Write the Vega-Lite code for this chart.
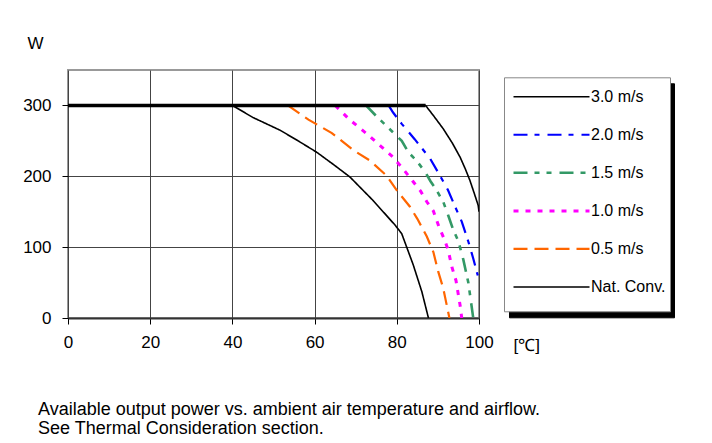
{
  "$schema": "https://vega.github.io/schema/vega-lite/v6.json",
  "width": 411,
  "height": 248,
  "autosize": "none",
  "padding": {"left": 68, "top": 70, "right": 233, "bottom": 125},
  "background": "white",
  "title": {
    "text": ["Available output power vs. ambient air temperature and airflow.", "See Thermal Consideration section."],
    "orient": "bottom",
    "anchor": "start",
    "frame": "group",
    "offset": 48,
    "dx": -30,
    "font": "Liberation Sans",
    "fontSize": 18,
    "fontWeight": "normal",
    "lineHeight": 19,
    "color": "black"
  },
  "config": {
    "view": {"stroke": "#999999", "strokeWidth": 2},
    "font": "Liberation Sans"
  },
  "layer": [
    {
      "data": {
        "values": [
          {"series": "3.0 m/s", "x": 0, "y": 300}, {"series": "3.0 m/s", "x": 87, "y": 300}, {"series": "3.0 m/s", "x": 89, "y": 285}, {"series": "3.0 m/s", "x": 91.3, "y": 267}, {"series": "3.0 m/s", "x": 93.5, "y": 247}, {"series": "3.0 m/s", "x": 95.4, "y": 227}, {"series": "3.0 m/s", "x": 96.7, "y": 210}, {"series": "3.0 m/s", "x": 97.8, "y": 194}, {"series": "3.0 m/s", "x": 98.9, "y": 175}, {"series": "3.0 m/s", "x": 99.8, "y": 159}, {"series": "3.0 m/s", "x": 100, "y": 150},
          {"series": "2.0 m/s", "x": 78, "y": 300}, {"series": "2.0 m/s", "x": 79.1, "y": 290}, {"series": "2.0 m/s", "x": 81.2, "y": 274}, {"series": "2.0 m/s", "x": 84.4, "y": 252}, {"series": "2.0 m/s", "x": 88.1, "y": 225}, {"series": "2.0 m/s", "x": 90.5, "y": 201}, {"series": "2.0 m/s", "x": 92.5, "y": 180}, {"series": "2.0 m/s", "x": 94.2, "y": 157}, {"series": "2.0 m/s", "x": 95.8, "y": 136}, {"series": "2.0 m/s", "x": 97.4, "y": 108}, {"series": "2.0 m/s", "x": 98.6, "y": 84}, {"series": "2.0 m/s", "x": 99.7, "y": 60},
          {"series": "1.5 m/s", "x": 72.5, "y": 300}, {"series": "1.5 m/s", "x": 75, "y": 285}, {"series": "1.5 m/s", "x": 79.1, "y": 262}, {"series": "1.5 m/s", "x": 81.2, "y": 250}, {"series": "1.5 m/s", "x": 82.8, "y": 234}, {"series": "1.5 m/s", "x": 84.8, "y": 222}, {"series": "1.5 m/s", "x": 86.9, "y": 206}, {"series": "1.5 m/s", "x": 88.2, "y": 193}, {"series": "1.5 m/s", "x": 89.7, "y": 180}, {"series": "1.5 m/s", "x": 91.3, "y": 164}, {"series": "1.5 m/s", "x": 92.5, "y": 145}, {"series": "1.5 m/s", "x": 93.7, "y": 125}, {"series": "1.5 m/s", "x": 95, "y": 108}, {"series": "1.5 m/s", "x": 96.2, "y": 82}, {"series": "1.5 m/s", "x": 97.4, "y": 50}, {"series": "1.5 m/s", "x": 98.6, "y": 0},
          {"series": "1.0 m/s", "x": 65, "y": 300}, {"series": "1.0 m/s", "x": 68.5, "y": 280}, {"series": "1.0 m/s", "x": 72.7, "y": 260}, {"series": "1.0 m/s", "x": 76, "y": 243}, {"series": "1.0 m/s", "x": 79.1, "y": 227}, {"series": "1.0 m/s", "x": 82, "y": 207}, {"series": "1.0 m/s", "x": 83.9, "y": 193}, {"series": "1.0 m/s", "x": 85.8, "y": 179}, {"series": "1.0 m/s", "x": 87.3, "y": 164}, {"series": "1.0 m/s", "x": 88.9, "y": 151}, {"series": "1.0 m/s", "x": 90.3, "y": 128}, {"series": "1.0 m/s", "x": 91.5, "y": 112}, {"series": "1.0 m/s", "x": 92.5, "y": 96}, {"series": "1.0 m/s", "x": 93.4, "y": 72}, {"series": "1.0 m/s", "x": 94.4, "y": 53}, {"series": "1.0 m/s", "x": 95.4, "y": 18}, {"series": "1.0 m/s", "x": 95.8, "y": 0},
          {"series": "0.5 m/s", "x": 53.5, "y": 300}, {"series": "0.5 m/s", "x": 58.5, "y": 280}, {"series": "0.5 m/s", "x": 64.2, "y": 261}, {"series": "0.5 m/s", "x": 69.4, "y": 237}, {"series": "0.5 m/s", "x": 73.5, "y": 222}, {"series": "0.5 m/s", "x": 77.5, "y": 201}, {"series": "0.5 m/s", "x": 80, "y": 180}, {"series": "0.5 m/s", "x": 83.2, "y": 157}, {"series": "0.5 m/s", "x": 85, "y": 140}, {"series": "0.5 m/s", "x": 87.3, "y": 115}, {"series": "0.5 m/s", "x": 88.9, "y": 93}, {"series": "0.5 m/s", "x": 90.1, "y": 65}, {"series": "0.5 m/s", "x": 91.3, "y": 42}, {"series": "0.5 m/s", "x": 92.8, "y": 0},
          {"series": "Nat. Conv.", "x": 0, "y": 300}, {"series": "Nat. Conv.", "x": 40, "y": 300}, {"series": "Nat. Conv.", "x": 45, "y": 283}, {"series": "Nat. Conv.", "x": 51.6, "y": 265}, {"series": "Nat. Conv.", "x": 56, "y": 250}, {"series": "Nat. Conv.", "x": 60.5, "y": 234}, {"series": "Nat. Conv.", "x": 64.5, "y": 217}, {"series": "Nat. Conv.", "x": 68.6, "y": 199}, {"series": "Nat. Conv.", "x": 74.2, "y": 166}, {"series": "Nat. Conv.", "x": 79.6, "y": 131}, {"series": "Nat. Conv.", "x": 81.2, "y": 119}, {"series": "Nat. Conv.", "x": 84, "y": 75}, {"series": "Nat. Conv.", "x": 86.1, "y": 37}, {"series": "Nat. Conv.", "x": 87.7, "y": 0}
        ]
      },
      "transform": [{"calculate": "datum.series", "as": "series2"}],
      "mark": {"type": "line", "clip": true},
      "encoding": {
        "x": {
          "field": "x", "type": "quantitative",
          "scale": {"domain": [0, 100], "nice": false},
          "axis": {
            "values": [0, 20, 40, 60, 80, 100],
            "title": "[℃]", "titleX": 445, "titleY": 32, "titleAlign": "left", "titleBaseline": "alphabetic",
            "titleFont": "Liberation Sans", "titleFontSize": 17, "titleFontWeight": "normal", "titleColor": "black",
            "labelFont": "Liberation Sans", "labelFontSize": 17, "labelColor": "black", "labelPadding": 10, "labelFlush": false,
            "tickSize": 6, "tickColor": "black",
            "domainColor": "#333333", "domainWidth": 2,
            "grid": true, "gridColor": "#444444", "gridWidth": 1
          }
        },
        "y": {
          "field": "y", "type": "quantitative",
          "scale": {"domain": [0, 350], "nice": false},
          "axis": {
            "values": [0, 100, 200, 300],
            "title": "W", "titleAngle": 0, "titleX": -41, "titleY": -22, "titleAlign": "left", "titleBaseline": "alphabetic",
            "titleFont": "Liberation Sans", "titleFontSize": 17, "titleFontWeight": "normal", "titleColor": "black",
            "labelFont": "Liberation Sans", "labelFontSize": 17, "labelColor": "black", "labelPadding": 11, "labelFlush": false,
            "tickSize": 6, "tickColor": "black",
            "domain": false,
            "grid": true, "gridColor": "#444444", "gridWidth": 1
          }
        },
        "color": {
          "field": "series", "type": "nominal",
          "scale": {
            "domain": ["3.0 m/s", "2.0 m/s", "1.5 m/s", "1.0 m/s", "0.5 m/s", "Nat. Conv."],
            "range": ["#000000", "#0000ff", "#339966", "#ff00ff", "#ff6600", "#000000"]
          },
          "legend": {
            "title": " ", "titleOrient": "bottom", "titleFontSize": 1, "titlePadding": 3.6,
            "orient": "none", "legendX": 436, "legendY": 7.3,
            "symbolType": "stroke", "symbolSize": 5776, "symbolOffset": 4, "clipHeight": 30.8, "rowPadding": 7.06,
            "padding": 4, "labelOffset": 0, "labelFontSize": 16, "labelFont": "Liberation Sans", "labelColor": "black",
            "fillColor": "white", "strokeColor": "#888888", "zindex": 1
          }
        },
        "strokeDash": {
          "field": "series", "type": "nominal",
          "scale": {
            "domain": ["3.0 m/s", "2.0 m/s", "1.5 m/s", "1.0 m/s", "0.5 m/s", "Nat. Conv."],
            "range": [[1, 0], [14, 7, 5, 8], [14, 7, 5, 7, 5, 8], [5, 7], [14, 7], [1, 0]]
          }
        },
        "strokeWidth": {
          "field": "series", "type": "ordinal",
          "scale": {
            "type": "ordinal",
            "domain": ["3.0 m/s", "2.0 m/s", "1.5 m/s", "1.0 m/s", "0.5 m/s", "Nat. Conv."],
            "range": [1.6, 2.2, 2.6, 3, 2.2, 1.6]
          }
        },
        "opacity": {
          "field": "series2", "type": "ordinal",
          "scale": {"type": "ordinal", "range": [1]},
          "legend": {
            "title": " ", "titleOrient": "bottom", "titleFontSize": 1, "titlePadding": 3.6,
            "orient": "none", "legendX": 441, "legendY": 13.3,
            "symbolType": "stroke", "symbolSize": 24025, "symbolOffset": 0, "clipHeight": 30.8, "rowPadding": 7.06,
            "padding": 4, "labelOffset": 0, "labelExpr": "''", "labelFontSize": 16, "labelFont": "Liberation Sans", "labelColor": "black",
            "symbolStrokeColor": "black", "titleColor": "black",
            "fillColor": "black", "strokeColor": "black", "zindex": 0
          }
        }
      }
    },
    {
      "data": {"values": [{"x": 0, "y": 300}, {"x": 87, "y": 300}]},
      "mark": {"type": "line", "color": "black", "strokeWidth": 3.5},
      "encoding": {
        "x": {"field": "x", "type": "quantitative"},
        "y": {"field": "y", "type": "quantitative"}
      }
    }
  ]
}
